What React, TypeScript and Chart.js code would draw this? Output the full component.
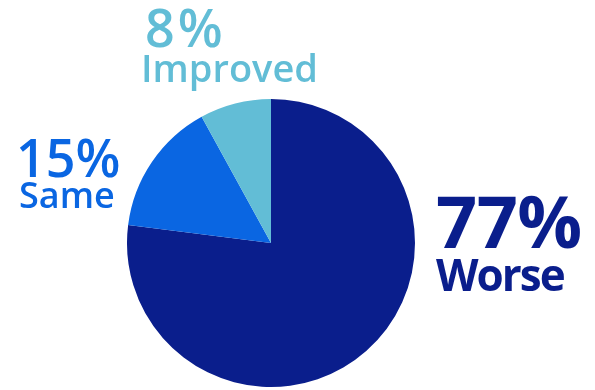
import React, { useEffect, useRef } from "react";
import { Chart, registerables } from "chart.js";

Chart.register(...registerables);

const categories = ["Worse", "Same", "Improved"];
const values = [77, 15, 8];
const colors = ["#0a1e8c", "#0a66e2", "#62bdd6"];

type Lbl = { x: number; y1: number; y2: number; s1: number; s2: number; w: string; ls1: number; ls2: number; x2: number };
const labels: Lbl[] = [
  { x: 436, x2: 436, y1: 248, y2: 291, s1: 72, s2: 44, w: "700", ls1: -0.5, ls2: -2 },
  { x: 16, x2: 19, y1: 177, y2: 208, s1: 52, s2: 36, w: "600", ls1: 0, ls2: 0 },
  { x: 145, x2: 141, y1: 47, y2: 82, s1: 52, s2: 38, w: "600", ls1: 3, ls2: 0 },
];

const labelPlugin = {
  id: "outerLabels",
  afterDraw(chart: any) {
    const ctx = chart.ctx;
    ctx.save();
    ctx.textAlign = "left";
    ctx.textBaseline = "alphabetic";
    labels.forEach((l, i) => {
      ctx.fillStyle = colors[i];
      ctx.font = `${l.w} ${l.s1}px "Open Sans"`;
      ctx.letterSpacing = `${l.ls1}px`;
      ctx.fillText(`${values[i]}%`, l.x, l.y1);
      ctx.font = `${l.w} ${l.s2}px "Open Sans"`;
      ctx.letterSpacing = `${l.ls2}px`;
      ctx.fillText(categories[i], l.x2, l.y2);
    });
    ctx.restore();
  },
};

export default function App() {
  const ref = useRef<HTMLCanvasElement>(null);
  useEffect(() => {
    const chart = new Chart(ref.current!, {
      type: "pie",
      data: {
        labels: categories,
        datasets: [{ data: values, backgroundColor: colors, borderWidth: 0 }],
      },
      options: {
        animation: false,
        responsive: false,
        layout: { padding: { top: 99, bottom: 3, left: 127, right: 180 } },
        plugins: { legend: { display: false }, tooltip: { enabled: false } },
      },
      plugins: [labelPlugin],
    });
    return () => chart.destroy();
  }, []);
  return (
    <div style={{ position: "fixed", left: 0, top: 0, width: 595, height: 390, background: "#fff" }}>
      <canvas ref={ref} width={595} height={390} />
    </div>
  );
}
